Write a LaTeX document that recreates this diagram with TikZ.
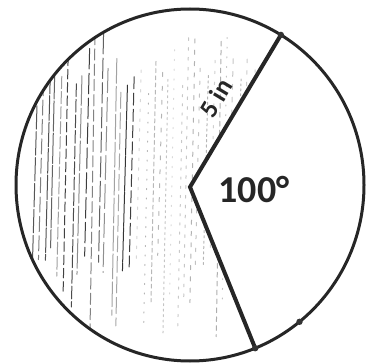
\documentclass[tikz,border=0pt]{standalone}
\usepackage{fontspec}
\setmainfont{Carlito}
\begin{document}
\begin{tikzpicture}[x=1pt,y=1pt,
  rim/.style={line width=3pt, black!85},
  radiusline/.style={line width=4pt, black!85},
  hatchline/.style={line width=1pt, line cap=round},
  dotmark/.style={fill=black!80, draw=none}]
\useasboundingbox (0,0) rectangle (367,362);
\coordinate (C) at (190,177);
\coordinate (V) at (190,175);
\coordinate (T) at (280.9,327.1);
\coordinate (B) at (255.2,13.8);
\coordinate (D) at (299.5,40.2);
% pencil shading of the major sector
\begin{scope}
  \clip (V) -- (T) arc[start angle=58.5, end angle=292, x radius=174, y radius=176] -- cycle;
  \pgfmathsetseed{11}
  \foreach \i in {0,...,38} {
    \pgfmathsetmacro{\xx}{30+\i*6.6+3*rnd}
    \pgfmathsetmacro{\yt}{362-(30+80*rnd)}
    \pgfmathsetmacro{\yb}{362-(240+110*rnd)}
    \pgfmathsetmacro{\op}{ifthenelse(\xx<130,0.35+0.45*rnd,0.12+0.25*rnd)}
    \pgfmathsetmacro{\da}{ifthenelse(\xx<130,6+30*rnd,1+4*rnd)}
    \pgfmathsetmacro{\db}{ifthenelse(\xx<130,1+4*rnd,3+7*rnd)}
    \draw[hatchline, black, opacity=\op, dash pattern=on \da pt off \db pt]
      (\xx+5,\yt) -- (\xx,\yb);
  }
\end{scope}
\draw[rim] (C) ellipse[x radius=174, y radius=176];
\draw[radiusline, line join=miter] (T) -- (V) -- (B);
\fill[dotmark] (T) circle (3.2);
\fill[dotmark] (B) circle (3.2);
\fill[dotmark] (D) circle (3.2);
\node[rotate=59, font=\fontsize{26}{28}\selectfont\bfseries, text=black!85] (lbl) at (216,264) {5 in};
\node[font=\fontsize{38}{40}\selectfont\bfseries, text=black!85] (ang) at (254,172) {100°};
\end{tikzpicture}
\end{document}
